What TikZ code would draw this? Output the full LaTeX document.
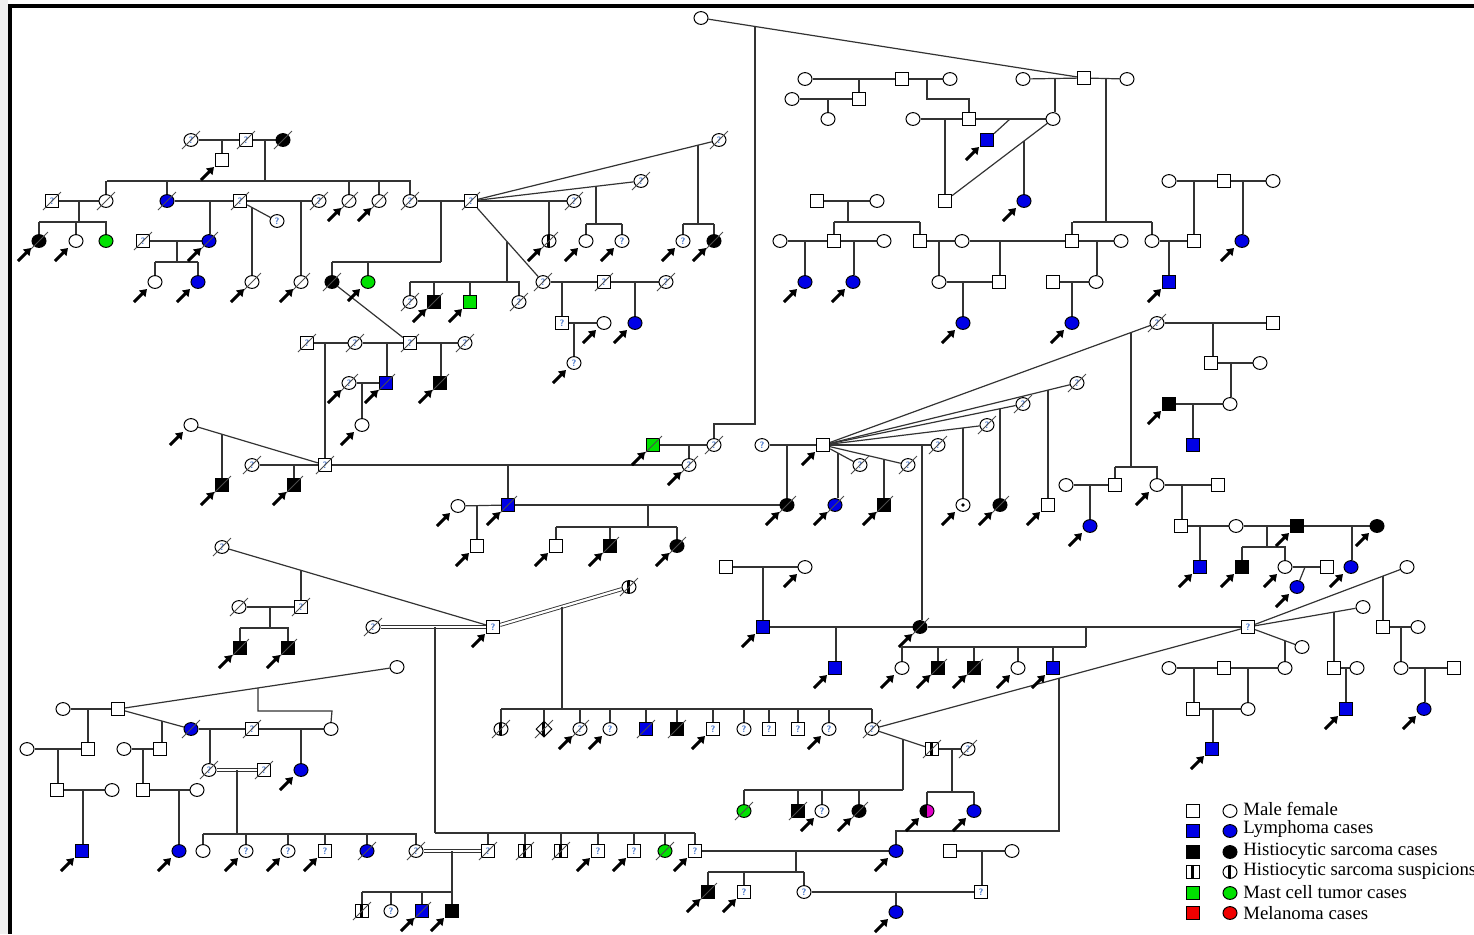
\documentclass[tikz,border=0pt]{standalone}
\usepackage{fontspec}
\setmainfont{Liberation Serif}
\usetikzlibrary{shapes.geometric,arrows.meta}
\pgfdeclarelayer{bg}
\pgfsetlayers{bg,main}
\definecolor{lymph}{RGB}{0,0,230}
\definecolor{mast}{RGB}{0,225,0}
\definecolor{mela}{RGB}{240,0,0}
\definecolor{magen}{RGB}{225,0,200}
\definecolor{qcol}{RGB}{60,110,200}
\tikzset{
 ln/.style={line width=0.6pt, draw=black!80},
 dbl/.style={double=white, double distance=1.1pt, line width=0.45pt, draw=black!80},
 sq/.style={rectangle, draw, fill=white, minimum size=6.6pt, inner sep=0pt, line width=0.5pt},
 ci/.style={ellipse, draw, fill=white, minimum width=7pt, minimum height=6.4pt, inner sep=0pt, line width=0.5pt},
 di/.style={diamond, draw, fill=white, minimum size=8pt, inner sep=0pt, line width=0.5pt},
 fb/.style={fill=lymph}, fk/.style={fill=black}, fg/.style={fill=mast}, fr/.style={fill=mela},
 hs/.style={path picture={\fill[black] ([xshift=-1.2pt]path picture bounding box.south) rectangle ([xshift=0.5pt]path picture bounding box.north);}},
 hm/.style={path picture={\fill[black] (path picture bounding box.south west) rectangle (path picture bounding box.north); \fill[magen] (path picture bounding box.south) rectangle (path picture bounding box.north east);}},
 dotc/.style={path picture={\fill[black] (path picture bounding box.center) circle (0.9pt);}},
 slash/.style={line width=0.4pt, draw=black!70},
 prob/.style={line width=1.5pt, -{Triangle[length=3.4pt,width=4.4pt]}},
 qm/.style={font=\sffamily\bfseries\fontsize{4.6}{5}\selectfont, text=qcol, inner sep=0pt},
 legt/.style={anchor=west, inner sep=0pt, font=\fontsize{9.4}{10}\selectfont},
}
\newcommand\nd[4]{\node[#1] (#2) at (#3,#4) {};}
\newcommand\dcs[1]{\draw[slash] ([shift={(-9,9)}]#1.center) -- ([shift={(9,-9)}]#1.center);}
\newcommand\qmk[1]{\node[qm] at (#1) {?};}
\newcommand\prb[1]{\draw[prob] ([shift={(-21,20)}]#1.center) -- ([shift={(-8,7)}]#1.center);}
\newcommand\sibs[6]{\coordinate (sibY) at (0,#3); \draw[ln] (#1,#2) -- (#1,#3) (#4,#3) -- (#5,#3); \foreach \kid in {#6} {\draw[ln] (\kid |- sibY) -- (\kid.north);}}
\newcommand\dropto[3]{\coordinate (dP) at (#1,#2); \draw[ln] (dP) -- (dP |- #3.north);}
\begin{document}
\begin{tikzpicture}[x=0.5pt,y=-0.5pt]
\useasboundingbox (0,0) rectangle (1474,934);
\fill[black!6] (0,0) rectangle (8,934);
\fill[black] (8,4) rectangle (1474,8);
\fill[black] (8,4) rectangle (12,934);
% ---------- cluster A
\nd{ci}{A1}{191}{140}\qmk{A1}\dcs{A1}
\nd{sq}{A2}{246}{140}\qmk{A2}\dcs{A2}
\nd{ci,fk}{A3}{283}{140}\dcs{A3}
\nd{sq}{A4}{222}{160}\prb{A4}
\nd{ci}{A5}{106}{201}\dcs{A5}
\nd{ci,fb}{A6}{167}{201}\dcs{A6}
\nd{sq}{A7}{52}{201}\qmk{A7}\dcs{A7}
\nd{ci,fk}{A8}{39}{241}\dcs{A8}\prb{A8}
\nd{ci}{A9}{76}{241}\prb{A9}
\nd{ci,fg}{A50}{106}{241}
\nd{ci}{A10}{349}{201}\dcs{A10}\prb{A10}
\nd{ci}{A11}{379}{201}\dcs{A11}\prb{A11}
\nd{ci}{A12}{410}{201}\qmk{A12}\dcs{A12}
\nd{sq}{A13}{240}{201}\qmk{A13}\dcs{A13}
\nd{ci,fb}{A14}{209}{241}\dcs{A14}\prb{A14}
\nd{sq}{A15}{143}{241}\qmk{A15}\dcs{A15}
\nd{ci}{A16}{155}{282}\prb{A16}
\nd{ci,fb}{A17}{198}{282}\prb{A17}
\nd{ci}{A18}{319}{201}\qmk{A18}\dcs{A18}
\nd{ci}{A19}{301}{282}\dcs{A19}\prb{A19}
\nd{ci}{A20}{277}{221}\qmk{A20}
\nd{ci}{A21}{252}{282}\dcs{A21}\prb{A21}
\nd{sq}{A22}{471}{201}\qmk{A22}\dcs{A22}
\nd{ci,fk}{A23}{332}{282}\dcs{A23}
\coordinate (A23a) at (354,295);
\draw[prob] ([shift={(-6,6)}]A23a) -- ([shift={(6,-6)}]A23a);
\nd{ci,fg}{A24}{368}{282}
\nd{ci}{A25}{719}{140}\qmk{A25}\dcs{A25}
\nd{ci}{A26}{683}{241}\qmk{A26}\prb{A26}
\nd{ci,fk}{A27}{714}{241}\dcs{A27}\prb{A27}
\nd{ci}{A28}{641}{181}\qmk{A28}\dcs{A28}
\nd{ci}{A29}{586}{241}\prb{A29}
\nd{ci}{A30}{622}{241}\qmk{A30}\prb{A30}
\nd{ci}{A31}{574}{201}\qmk{A31}\dcs{A31}
\nd{ci,hs}{A32}{549}{241}\dcs{A32}\prb{A32}
\nd{ci}{A33}{543}{282}\qmk{A33}\dcs{A33}
\nd{ci}{A34}{410}{302}\qmk{A34}\dcs{A34}
\nd{sq,fk}{A35}{434}{302}\dcs{A35}\prb{A35}
\nd{sq,fg}{A36}{470}{302}\prb{A36}
\nd{ci}{A37}{519}{302}\qmk{A37}\dcs{A37}
\nd{sq}{A38}{604}{282}\qmk{A38}\dcs{A38}
\nd{sq}{A39}{562}{323}\qmk{A39}
\nd{ci}{A40}{666}{282}\qmk{A40}\dcs{A40}
\nd{ci,fb}{A41}{635}{323}\prb{A41}
\nd{ci}{A42}{604}{323}\prb{A42}
\nd{ci}{A43}{574}{363}\qmk{A43}\prb{A43}
% ---------- cluster B
\nd{sq}{B1}{307}{343}\qmk{B1}\dcs{B1}
\nd{ci}{B2}{355}{343}\qmk{B2}\dcs{B2}
\nd{sq}{B3}{410}{343}\qmk{B3}\dcs{B3}
\nd{ci}{B4}{465}{343}\qmk{B4}\dcs{B4}
\nd{sq}{B5}{325}{465}\qmk{B5}\dcs{B5}
\nd{sq,fb}{B6}{386}{383}\dcs{B6}\prb{B6}
\nd{sq,fk}{B7}{440}{383}\dcs{B7}\prb{B7}
\nd{ci}{B8}{349}{383}\qmk{B8}\dcs{B8}\prb{B8}
\nd{ci}{B9}{362}{425}\prb{B9}
\nd{ci}{B10}{191}{425}\prb{B10}
\nd{sq,fk}{B11}{222}{485}\dcs{B11}\prb{B11}
\nd{ci}{B12}{252}{465}\qmk{B12}\dcs{B12}
\nd{sq,fk}{B13}{294}{485}\dcs{B13}\prb{B13}
% ---------- cluster C
\nd{ci}{C1}{689}{465}\qmk{C1}\dcs{C1}\prb{C1}
\nd{sq,fb}{C2}{508}{505}\dcs{C2}\prb{C2}
\nd{sq,fg}{C3}{653}{445}\dcs{C3}\prb{C3}
\nd{ci}{C4}{714}{445}\qmk{C4}\dcs{C4}
\nd{ci}{C5}{458}{506}\prb{C5}
\nd{sq}{C6}{477}{546}\prb{C6}
\nd{ci,fk}{C7}{787}{505}\dcs{C7}\prb{C7}
\nd{sq}{C8}{556}{546}\prb{C8}
\nd{sq,fk}{C9}{610}{546}\dcs{C9}\prb{C9}
\nd{ci,fk}{C10}{677}{546}\dcs{C10}\prb{C10}
\nd{ci}{C11}{762}{445}\qmk{C11}
\nd{sq}{C12}{823}{445}\prb{C12}
\nd{ci}{C13}{938}{445}\qmk{C13}\dcs{C13}
\nd{ci,fk}{C14}{920}{627}\dcs{C14}\prb{C14}
\nd{ci}{C15}{860}{465}\qmk{C15}\dcs{C15}
\nd{ci,fb}{C16}{835}{505}\dcs{C16}\prb{C16}
\nd{ci}{C17}{908}{465}\qmk{C17}\dcs{C17}
\nd{sq,fk}{C18}{884}{505}\dcs{C18}\prb{C18}
\nd{ci}{C19}{987}{425}\qmk{C19}\dcs{C19}
\nd{ci,dotc}{C20}{963}{505}\prb{C20}
\nd{ci}{C21}{1023}{404}\qmk{C21}\dcs{C21}
\nd{ci,fk}{C22}{1000}{505}\dcs{C22}\prb{C22}
\nd{ci}{C23}{1077}{383}\qmk{C23}\dcs{C23}
\nd{sq}{C24}{1048}{505}\prb{C24}
\nd{ci}{C25}{1157}{323}\qmk{C25}\dcs{C25}
% ---------- cluster D
\nd{sq}{D1}{1115}{485}
\nd{ci}{D2}{1157}{485}\prb{D2}
\nd{sq}{D3}{1273}{323}
\nd{sq}{D4}{1211}{363}
\nd{ci}{D5}{1260}{363}
\nd{ci}{D6}{1230}{404}
\nd{sq,fk}{D7}{1169}{404}\prb{D7}
\nd{sq,fb}{D8}{1193}{445}
\nd{ci}{D9}{1066}{485}
\nd{ci,fb}{D10}{1090}{526}\prb{D10}
\nd{sq}{D11}{1218}{485}
\nd{sq}{D12}{1181}{526}
\nd{ci}{D13}{1236}{526}
\nd{sq,fk}{D14}{1297}{526}\prb{D14}
\nd{ci,fk}{D15}{1377}{526}\prb{D15}
\nd{sq,fb}{D16}{1200}{567}\prb{D16}
\nd{sq,fk}{D17}{1242}{567}\prb{D17}
\nd{ci}{D18}{1285}{567}\prb{D18}
\nd{sq}{D19}{1327}{567}
\nd{ci,fb}{D20}{1297}{587}\prb{D20}
\nd{ci,fb}{D21}{1351}{567}\prb{D21}
% ---------- cluster E / F
\nd{ci}{T1}{701}{18}
\nd{sq}{T2}{1084}{78}
\nd{ci}{E1}{805}{79}
\nd{sq}{E2}{902}{79}
\nd{ci}{E3}{950}{79}
\nd{sq}{E4}{859}{99}
\nd{ci}{E5}{792}{99}
\nd{ci}{E6}{828}{119}
\nd{sq}{E7}{969}{119}
\nd{ci}{E8}{913}{119}
\nd{sq}{E9}{945}{201}
\nd{ci}{E10}{1053}{119}
\nd{sq,fb}{E11}{987}{140}\prb{E11}
\nd{ci,fb}{E12}{1024}{201}\prb{E12}
\nd{ci}{E13}{1023}{79}
\nd{ci}{E14}{1127}{79}
\nd{sq}{F1}{1072}{241}
\nd{ci}{F2}{1152}{241}
\nd{sq}{F3}{817}{201}
\nd{ci}{F4}{877}{201}
\nd{sq}{F5}{834}{241}
\nd{sq}{F6}{920}{241}
\nd{ci}{F7}{780}{241}
\nd{ci,fb}{F8}{805}{282}\prb{F8}
\nd{ci}{F9}{884}{241}
\nd{ci,fb}{F10}{853}{282}\prb{F10}
\nd{ci}{F11}{962}{241}
\nd{ci}{F12}{939}{282}
\nd{sq}{F13}{999}{282}
\nd{ci,fb}{F14}{963}{323}\prb{F14}
\nd{ci}{F15}{1121}{241}
\nd{ci}{F16}{1096}{282}
\nd{sq}{F17}{1053}{282}
\nd{ci,fb}{F18}{1072}{323}\prb{F18}
\nd{sq}{F19}{1194}{241}
\nd{sq,fb}{F20}{1169}{282}\prb{F20}
\nd{ci}{F21}{1169}{181}
\nd{sq}{F22}{1224}{181}
\nd{ci}{F23}{1273}{181}
\nd{ci,fb}{F24}{1242}{241}\prb{F24}
% ---------- cluster G / H / I / J
\nd{ci}{G1}{222}{547}\qmk{G1}\dcs{G1}
\nd{sq}{G2}{493}{627}\qmk{G2}\prb{G2}
\nd{sq}{G3}{301}{607}\qmk{G3}\dcs{G3}
\nd{ci}{G4}{239}{607}\dcs{G4}
\nd{sq,fk}{G5}{240}{648}\dcs{G5}\prb{G5}
\nd{sq,fk}{G6}{288}{648}\dcs{G6}\prb{G6}
\nd{ci}{G7}{373}{627}\qmk{G7}\dcs{G7}
\nd{ci,hs}{G8}{629}{587}\dcs{G8}
\nd{sq}{H1}{488}{851}\qmk{H1}\dcs{H1}
\nd{sq,hs}{H2}{525}{851}\dcs{H2}
\nd{sq,hs}{H3}{561}{851}\dcs{H3}
\nd{sq}{H4}{598}{851}\qmk{H4}\prb{H4}
\nd{sq}{H5}{634}{851}\qmk{H5}\prb{H5}
\nd{ci,fg}{H6}{665}{851}\dcs{H6}
\nd{sq}{H7}{695}{851}\qmk{H7}\prb{H7}
\nd{ci,hs}{I1}{501}{729}\dcs{I1}
\nd{di,hs}{I2}{544}{729}\dcs{I2}
\nd{ci}{I3}{580}{729}\qmk{I3}\dcs{I3}\prb{I3}
\nd{ci}{I4}{610}{729}\qmk{I4}\prb{I4}
\nd{sq,fb}{I5}{646}{729}\dcs{I5}
\nd{sq,fk}{I6}{677}{729}\dcs{I6}
\nd{sq}{I7}{713}{729}\qmk{I7}\prb{I7}
\nd{ci}{I8}{744}{729}\qmk{I8}
\nd{sq}{I9}{769}{729}\qmk{I9}
\nd{sq}{I10}{798}{729}\qmk{I10}
\nd{ci}{I11}{829}{729}\qmk{I11}\prb{I11}
\nd{ci}{I12}{872}{729}\qmk{I12}\dcs{I12}
\nd{ci,fb}{J1}{896}{851}\prb{J1}
\nd{sq,hs}{J2}{932}{749}\dcs{J2}
\nd{ci,fg}{J3}{744}{811}\dcs{J3}
\nd{sq,fk}{J4}{798}{811}\dcs{J4}
\nd{ci}{J5}{822}{811}\qmk{J5}\prb{J5}
\nd{ci,fk}{J6}{859}{811}\dcs{J6}\prb{J6}
\nd{ci}{J7}{968}{749}\qmk{J7}\dcs{J7}
\nd{ci,hm}{J8}{927}{811}\prb{J8}
\nd{ci,fb}{J9}{974}{811}\prb{J9}
\nd{sq}{K1}{1248}{627}\qmk{K1}
\nd{sq,fk}{L1}{708}{892}\dcs{L1}\prb{L1}
\nd{sq}{L2}{744}{892}\qmk{L2}\prb{L2}
\nd{ci}{L3}{804}{892}\qmk{L3}
\nd{sq}{L4}{981}{892}\qmk{L4}
\nd{ci,fb}{L5}{896}{912}\prb{L5}
\nd{sq}{L6}{950}{851}
\nd{ci}{L7}{1012}{851}
\nd{ci}{M1}{416}{851}\qmk{M1}\dcs{M1}
\nd{sq,hs}{M2}{362}{911}\dcs{M2}
\nd{ci}{M3}{391}{911}\qmk{M3}
\nd{sq,fb}{M4}{422}{911}\dcs{M4}\prb{M4}
\nd{sq,fk}{M5}{452}{911}\prb{M5}
% ---------- cluster N / O
\nd{ci}{N1}{63}{709}
\nd{sq}{N2}{118}{709}
\nd{sq}{N3}{88}{749}
\nd{ci}{N4}{27}{749}
\nd{sq}{N5}{57}{790}
\nd{ci}{N6}{112}{790}
\nd{sq,fb}{N7}{82}{851}\prb{N7}
\nd{ci}{N8}{397}{667}
\nd{ci}{N9}{331}{729}
\nd{ci,fb}{N10}{191}{729}\dcs{N10}
\nd{sq}{N11}{160}{749}
\nd{ci}{N12}{124}{749}
\nd{sq}{N13}{143}{790}
\nd{ci}{N14}{197}{790}
\nd{ci,fb}{N15}{179}{851}\prb{N15}
\nd{sq}{N16}{252}{729}\qmk{N16}\dcs{N16}
\nd{ci,fb}{N17}{301}{770}\prb{N17}
\nd{ci}{N18}{209}{770}\qmk{N18}\dcs{N18}
\nd{sq}{N19}{264}{770}\qmk{N19}\dcs{N19}
\nd{ci}{O1}{203}{851}
\nd{ci}{O2}{246}{851}\qmk{O2}\prb{O2}
\nd{ci}{O3}{288}{851}\qmk{O3}\prb{O3}
\nd{sq}{O4}{325}{851}\qmk{O4}\prb{O4}
\nd{ci,fb}{O5}{367}{851}\dcs{O5}
% ---------- cluster P / Q / R
\nd{sq,fb}{R1}{763}{627}\prb{R1}
\nd{sq,fb}{R2}{835}{668}\prb{R2}
\nd{sq}{R3}{726}{567}
\nd{ci}{R4}{805}{567}\prb{R4}
\nd{ci}{Q1}{902}{668}\prb{Q1}
\nd{sq,fk}{Q2}{938}{668}\dcs{Q2}\prb{Q2}
\nd{sq,fk}{Q3}{974}{668}\dcs{Q3}\prb{Q3}
\nd{ci}{Q4}{1018}{668}\prb{Q4}
\nd{sq,fb}{Q5}{1053}{668}\prb{Q5}
\nd{ci}{P1}{1407}{567}
\nd{sq}{P2}{1383}{627}
\nd{ci}{P3}{1418}{627}
\nd{ci}{P4}{1401}{668}
\nd{sq}{P5}{1454}{668}
\nd{ci,fb}{P6}{1424}{709}\prb{P6}
\nd{ci}{P7}{1363}{607}
\nd{sq}{P8}{1334}{668}
\nd{ci}{P9}{1357}{668}
\nd{sq,fb}{P10}{1346}{709}\prb{P10}
\nd{ci}{P11}{1302}{647}
\nd{ci}{P12}{1285}{668}
\nd{ci}{P13}{1169}{668}
\nd{sq}{P14}{1224}{668}
\nd{sq}{P15}{1193}{709}
\nd{ci}{P16}{1248}{709}
\nd{sq,fb}{P17}{1212}{749}\prb{P17}
% ---------- legend
\nd{sq}{LS1}{1193}{811}\nd{ci}{LC1}{1230}{811}
\nd{sq,fb}{LS2}{1193}{831}\nd{ci,fb}{LC2}{1230}{831}
\nd{sq,fk}{LS3}{1193}{852}\nd{ci,fk}{LC3}{1230}{852}
\nd{sq,hs}{LS4}{1193}{872}\nd{ci,hs}{LC4}{1230}{872}
\nd{sq,fg}{LS5}{1193}{893}\nd{ci,fg}{LC5}{1230}{893}
\nd{sq,fr}{LS6}{1193}{913}\nd{ci,fr}{LC6}{1230}{913}
\node[legt] (LT1) at (1243,809) {Male female};
\node[legt] (LT2) at (1243,829) {Lymphoma cases};
\node[legt] (LT3) at (1243,851) {Histiocytic sarcoma cases};
\node[legt] (LT4) at (1243,871) {Histiocytic sarcoma suspicions};
\node[legt] (LT5) at (1243,892) {Mast cell tumor cases};
\node[legt] (LT6) at (1243,913) {Melanoma cases};
% ================= connectors
\begin{pgfonlayer}{bg}
% A
\draw[ln] (A1)--(A2) (A2)--(A3);
\dropto{222}{140}{A4}
\sibs{265}{140}{181}{107}{411}{A5,A6,A10,A11,A12}
\draw[ln] (A7)--(A5);
\sibs{79}{201}{222}{39}{107}{A8,A9,A50}
\draw[ln] (A6)--(A13);
\dropto{210}{201}{A14}
\draw[ln] (A15)--(A14);
\sibs{177}{241}{262}{155}{198}{A16,A17}
\draw[ln] (A13)--(A18);
\dropto{301}{201}{A19}
\draw[ln] (A13)--(A20);
\dropto{252}{207.5}{A21}
\draw[ln] (A12)--(A22);
\sibs{441}{201}{262}{332}{441}{A23,A24}
\draw[ln] (A23)--(B3);
\draw[ln] (A22)--(A25);
\sibs{698}{145}{224}{683}{714}{A26,A27}
\draw[ln] (A22)--(A28);
\sibs{596}{186.3}{224}{586}{622}{A29,A30}
\draw[ln] (A22)--(A31);
\dropto{549}{201}{A32}
\draw[ln] (A22)--(A33);
\sibs{507}{241.5}{282}{410}{520}{A34,A35,A36,A37}
\draw[ln] (A33)--(A38);
\dropto{562}{282}{A39}
\draw[ln] (A38)--(A40);
\dropto{635}{282}{A41}
\draw[ln] (A39)--(A42);
\dropto{574}{323}{A43}
% B
\draw[ln] (B1)--(B2) (B2)--(B3) (B3)--(B4);
\dropto{325}{343}{B5}
\dropto{387}{343}{B6}
\dropto{441}{343}{B7}
\draw[ln] (B8)--(B6);
\dropto{362}{383}{B9}
\draw[ln] (B10)--(B5);
\dropto{222}{434}{B11}
\draw[ln] (B12)--(B5);
\dropto{294}{465}{B13}
\draw[ln] (B5)--(C1);
\dropto{508}{465}{C2}
% C
\draw[ln] (C3)--(C4);
\dropto{689}{445}{C1}
\draw[ln] (C4.north) -- (714,424) -- (755,424) -- (755,26.5);
\draw[ln] (C5)--(C2);
\dropto{477}{506}{C6}
\draw[ln] (C2)--(C7);
\sibs{648}{505}{527}{556}{677}{C8,C9,C10}
\draw[ln] (C11)--(C12);
\dropto{787}{445}{C7}
\draw[ln] (C12)--(C13);
\dropto{922}{445}{C14}
\draw[ln] (C12)--(C15);
\dropto{838}{453}{C16}
\draw[ln] (C12)--(C17);
\dropto{884}{459}{C18}
\draw[ln] (C12)--(C19);
\dropto{963}{428}{C20}
\draw[ln] (C12)--(C21);
\dropto{1000}{408.7}{C22}
\draw[ln] (C12)--(C23);
\dropto{1048}{390}{C24}
\draw[ln] (C12)--(C25);
\sibs{1131}{332.5}{467}{1115}{1158}{D1,D2}
% D
\draw[ln] (C25)--(D3);
\dropto{1213}{323}{D4}
\draw[ln] (D4)--(D5);
\dropto{1231}{363}{D6}
\draw[ln] (D7)--(D6);
\dropto{1193}{404}{D8}
\draw[ln] (D9)--(D1);
\dropto{1090}{485}{D10}
\draw[ln] (D2)--(D11);
\dropto{1182}{485}{D12}
\draw[ln] (D12)--(D13) (D13)--(D14) (D14)--(D15);
\dropto{1200}{526}{D16}
\sibs{1267}{526}{547}{1242}{1286}{D17,D18}
\dropto{1352}{526}{D21}
\draw[ln] (D18)--(D19);
\draw[ln] (1305,567) -- (D20);
% E / F
\draw[ln] (T1)--(T2);
\draw[ln] (E1)--(E2) (E2)--(E3);
\dropto{859}{79}{E4}
\draw[ln] (E5)--(E4);
\dropto{828}{99}{E6}
\draw[ln] (927,79) -- (927,99) -- (969,99) -- (E7.north);
\draw[ln] (E8)--(E7);
\dropto{945}{119}{E9}
\draw[ln] (E7)--(E10);
\draw[ln] (1010,119) -- (E11);
\draw[ln] (E9)--(E10);
\dropto{1024}{141}{E12}
\draw[ln] (E13)--(T2);
\dropto{1055}{79}{E10}
\draw[ln] (T2)--(E14);
\sibs{1106}{79}{222}{1073}{1152}{F1,F2}
\draw[ln] (F3)--(F4);
\sibs{848}{201}{222}{834}{920}{F5,F6}
\draw[ln] (F7)--(F5) (F5)--(F9);
\dropto{805}{241}{F8}
\dropto{854}{241}{F10}
\draw[ln] (F6)--(F11) (F11)--(F1);
\dropto{939}{241}{F12}
\dropto{1000}{241}{F13}
\draw[ln] (F12)--(F13);
\dropto{963}{282}{F14}
\draw[ln] (F1)--(F15);
\dropto{1097}{241}{F16}
\draw[ln] (F17)--(F16);
\dropto{1072}{282}{F18}
\draw[ln] (F2)--(F19);
\dropto{1169}{241}{F20}
\draw[ln] (F21)--(F22) (F22)--(F23);
\dropto{1194}{181}{F19}
\dropto{1243}{181}{F24}
% G / H / I / J
\draw[ln] (G1)--(G2);
\dropto{301}{570}{G3}
\draw[ln] (G4)--(G3);
\sibs{270}{607}{628}{240}{289}{G5,G6}
\draw[dbl] (G7)--(G2);
\sibs{435}{627}{833}{435}{695}{H1,H2,H3,H4,H5,H6,H7}
\draw[dbl] (G2)--(G8);
\sibs{562}{606.7}{709}{501}{872}{I1,I2,I3,I4,I5,I6,I7,I8,I9,I10,I11,I12}
\draw[ln] (I12)--(K1);
\draw[ln] (1059,678.3) -- (1059,831) -- (896,831) -- (J1.north);
\draw[ln] (I12)--(J2);
\sibs{903}{739.3}{790}{744}{903}{J3,J4,J5,J6}
\draw[ln] (J2)--(J7);
\sibs{952}{749}{792}{927}{974}{J8,J9}
\draw[ln] (H7)--(J1);
\sibs{796}{851}{872}{708}{804}{L1,L2,L3}
\draw[ln] (L3)--(L4);
\dropto{896}{892}{L5}
\draw[ln] (L6)--(L7);
\dropto{982}{851}{L4}
\draw[dbl] (M1)--(H1);
\sibs{452}{851}{892}{362}{452}{M2,M3,M4,M5}
% N / O
\draw[ln] (N1)--(N2);
\dropto{88}{709}{N3}
\draw[ln] (N4)--(N3);
\dropto{58}{749}{N5}
\draw[ln] (N5)--(N6);
\dropto{83}{790}{N7}
\draw[ln] (N2)--(N8);
\draw[ln] (258,688) -- (258,711) -- (332,711) -- (N9.north);
\draw[ln] (N2)--(N10);
\dropto{162}{721}{N11}
\draw[ln] (N12)--(N11);
\dropto{143}{749}{N13}
\draw[ln] (N13)--(N14);
\dropto{179}{790}{N15}
\draw[ln] (N10)--(N16) (N16)--(N9);
\dropto{301}{729}{N17}
\dropto{210}{729}{N18}
\draw[dbl] (N18)--(N19);
\sibs{237}{770}{834}{203}{417}{O1,O2,O3,O4,O5,M1}
% P / Q / R
\draw[ln] (R3)--(R4);
\dropto{763}{567}{R1}
\draw[ln] (R1)--(C14);
\dropto{836}{627}{R2}
\draw[ln] (C14)--(K1);
\sibs{1086}{627}{647}{902}{1086}{Q1,Q2,Q3,Q4,Q5}
\draw[ln] (K1)--(P1);
\dropto{1383}{576}{P2}
\draw[ln] (P2)--(P3);
\dropto{1401}{627}{P4}
\draw[ln] (P4)--(P5);
\dropto{1425}{668}{P6}
\draw[ln] (K1)--(P7);
\dropto{1334}{612}{P8}
\draw[ln] (P8)--(P9);
\dropto{1346}{668}{P10}
\draw[ln] (K1)--(P11);
\dropto{1285}{640.7}{P12}
\draw[ln] (P13)--(P14) (P14)--(P12);
\dropto{1194}{668}{P15}
\dropto{1248}{668}{P16}
\draw[ln] (P15)--(P16);
\dropto{1213}{709}{P17}
\end{pgfonlayer}
\end{tikzpicture}
\end{document}
